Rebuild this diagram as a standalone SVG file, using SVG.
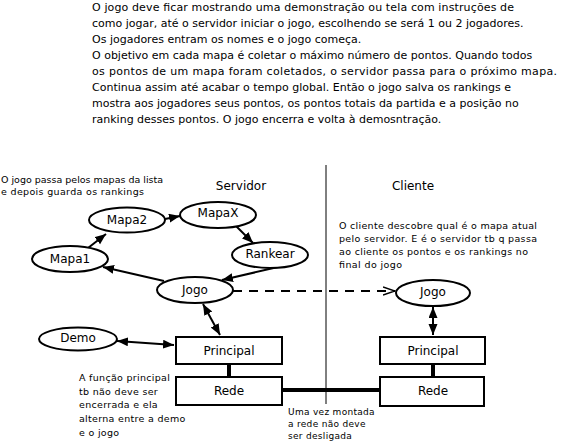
<svg xmlns="http://www.w3.org/2000/svg" width="562" height="444" viewBox="0 0 562 444">
<defs>
<style>
text{font-family:"DejaVu Sans","Liberation Sans",sans-serif;fill:#000}
.top{font-size:11px}
.lbl{font-size:12px;text-anchor:middle}
.note{font-size:9.5px}
.sp{letter-spacing:0.3px}
.sm{font-size:9px;letter-spacing:0.3px}
.nd{fill:#fff;stroke:#000;stroke-width:2}
.ln{stroke:#000;stroke-width:2;fill:none}
.thick{stroke:#000;stroke-width:4;fill:none}
</style>
<marker id="ah" markerUnits="userSpaceOnUse" markerWidth="12" markerHeight="10" refX="11" refY="4.5" orient="auto-start-reverse" viewBox="0 0 12 10">
<path d="M0,0 L11,4.5 L0,9 z" fill="#000"/>
</marker>
<marker id="oh" markerUnits="userSpaceOnUse" markerWidth="14" markerHeight="12" refX="12" refY="5" orient="auto" viewBox="0 0 14 12">
<path d="M0,1 L12,5 L0,9" fill="none" stroke="#000" stroke-width="1.5"/>
</marker>
</defs>
<rect width="562" height="444" fill="#fff"/>

<g id="desc">
<text class="top" x="92" y="11" textLength="422">O jogo deve ficar mostrando uma demonstração ou tela com instruções de</text>
<text class="top" x="92" y="27">como jogar, até o servidor iniciar o jogo, escolhendo se será 1 ou 2 jogadores.</text>
<text class="top" x="92" y="43">Os jogadores entram os nomes e o jogo começa.</text>
<text class="top" x="92" y="59">O objetivo em cada mapa é coletar o máximo número de pontos. Quando todos</text>
<text class="top" x="92" y="75" textLength="465">os pontos de um mapa foram coletados, o servidor passa para o próximo mapa.</text>
<text class="top" x="92" y="91">Continua assim até acabar o tempo global. Então o jogo salva os rankings e</text>
<text class="top" x="92" y="107">mostra aos jogadores seus pontos, os pontos totais da partida e a posição no</text>
<text class="top" x="92" y="123">ranking desses pontos. O jogo encerra e volta à demosntração.</text>
</g>

<g id="divider"><line x1="326" y1="165" x2="326" y2="404" stroke="#000" stroke-width="1"/></g>

<g id="headers">
<text class="lbl" x="241" y="190">Servidor</text>
<text class="lbl" x="413" y="190">Cliente</text>
</g>

<g id="notes">
<text class="note" x="1" y="183" textLength="162">O jogo passa pelos mapas da lista</text>
<text class="note" x="1" y="195" textLength="143">e depois guarda os rankings</text>
<text class="note" x="339" y="229" textLength="198">O cliente descobre qual é o mapa atual</text>
<text class="note" x="339" y="242" textLength="198">pelo servidor. E é o servidor tb q passa</text>
<text class="note" x="339" y="255" textLength="189">ao cliente os pontos e os rankings no</text>
<text class="note" x="339" y="268" textLength="63">final do jogo</text>
<text class="note sp" x="79" y="381">A função principal</text>
<text class="note sp" x="79" y="395">tb não deve ser</text>
<text class="note sp" x="79" y="408">encerrada e ela</text>
<text class="note sp" x="79" y="422">alterna entre a demo</text>
<text class="note sp" x="79" y="436">e o jogo</text>
<text class="sm" x="288" y="415">Uma vez montada</text>
<text class="sm" x="288" y="427">a rede não deve</text>
<text class="sm" x="288" y="439">ser desligada</text>
</g>

<g id="connectors">
<line class="ln" x1="88" y1="248" x2="106" y2="234" marker-end="url(#ah)"/>
<line class="ln" x1="165" y1="219" x2="180" y2="216" marker-end="url(#ah)"/>
<line class="ln" x1="236" y1="226" x2="253" y2="243" marker-end="url(#ah)"/>
<line class="ln" x1="278" y1="267" x2="222" y2="280" marker-end="url(#ah)"/>
<line class="ln" x1="164" y1="281" x2="103" y2="267" marker-end="url(#ah)"/>
<line class="ln" x1="203" y1="304" x2="220" y2="335" marker-start="url(#ah)" marker-end="url(#ah)"/>
<line class="ln" x1="117" y1="341" x2="174" y2="345" marker-start="url(#ah)" marker-end="url(#ah)"/>
<line class="ln" x1="433" y1="307" x2="433" y2="335" marker-start="url(#ah)" marker-end="url(#ah)"/>
<line class="ln" x1="233" y1="291" x2="395" y2="291" stroke-dasharray="9,7" marker-end="url(#oh)"/>
<line class="thick" x1="229" y1="364" x2="229" y2="377"/>
<line class="thick" x1="433" y1="364" x2="433" y2="377"/>
<line class="thick" x1="282" y1="390" x2="380" y2="390"/>
</g>

<g id="mapa1"><ellipse class="nd" cx="70" cy="259" rx="38" ry="13"/><text class="lbl" x="70" y="263">Mapa1</text></g>
<g id="mapa2"><ellipse class="nd" cx="127" cy="220" rx="38" ry="12.5"/><text class="lbl" x="127" y="224">Mapa2</text></g>
<g id="mapax"><ellipse class="nd" cx="218" cy="215" rx="38" ry="13"/><text class="lbl" x="218" y="217">MapaX</text></g>
<g id="rankear"><ellipse class="nd" cx="270" cy="255" rx="38" ry="13"/><text class="lbl" x="270" y="258">Rankear</text></g>
<g id="jogo-servidor"><ellipse class="nd" cx="195" cy="290" rx="38" ry="13"/><text class="lbl" x="195" y="294">Jogo</text></g>
<g id="demo"><ellipse class="nd" cx="78" cy="339" rx="39" ry="11.5"/><text class="lbl" x="78" y="342">Demo</text></g>
<g id="jogo-cliente"><ellipse class="nd" cx="433" cy="293" rx="37" ry="13"/><text class="lbl" x="433" y="296">Jogo</text></g>
<g id="principal-servidor"><rect class="nd" x="176" y="337" width="106" height="27"/><text class="lbl" x="229" y="355">Principal</text></g>
<g id="rede-servidor"><rect class="nd" x="176" y="377" width="106" height="28"/><text class="lbl" x="229" y="395">Rede</text></g>
<g id="principal-cliente"><rect class="nd" x="380" y="337" width="105" height="27"/><text class="lbl" x="433" y="355">Principal</text></g>
<g id="rede-cliente"><rect class="nd" x="380" y="377" width="104" height="29"/><text class="lbl" x="433" y="395">Rede</text></g>
</svg>
